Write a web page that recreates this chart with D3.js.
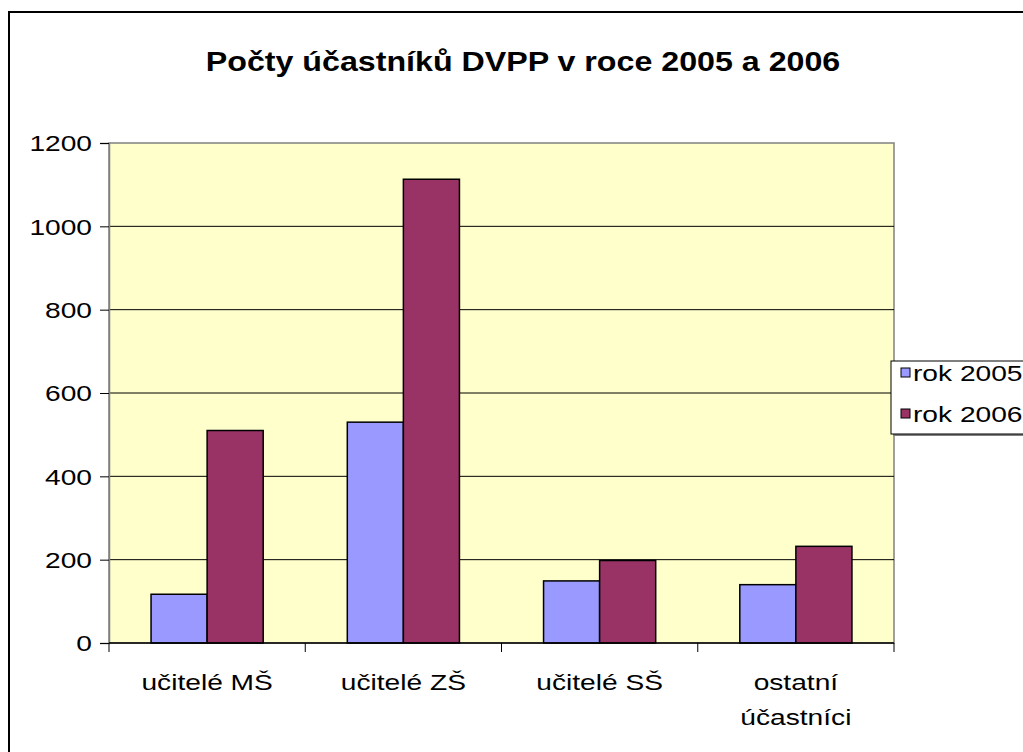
<!DOCTYPE html>
<html>
<head>
<meta charset="utf-8">
<script src="https://cdn.jsdelivr.net/npm/d3@7"></script>
<style>
  body { margin: 0; background: #fff; }
  svg text { font-family: Arial, "Liberation Sans", sans-serif; fill: #000; }
</style>
</head>
<body>
<div id="chart"></div>
<script>
const categories = ["učitelé MŠ", "učitelé ZŠ", "učitelé SŠ", "ostatní účastníci"];
const seriesNames = ["rok 2005", "rok 2006"];
const values2005 = [117, 530, 149, 140];
const values2006 = [510, 1113, 198, 232];
const yTicks = [0, 200, 400, 600, 800, 1000, 1200];
const colors = ["#9999FF", "#993366"];

const width = 1023, height = 752;
const margin = {top: 143, left: 109, bottom: 109, right: 129};
const fs = 22, sx = 1.28; // text in the reference is stretched sideways

const svg = d3.select("#chart").append("svg")
    .attr("width", width).attr("height", height);

// chart frame
svg.append("rect")
    .attr("x", 9).attr("y", 12).attr("width", 1040).attr("height", 760)
    .attr("fill", "#fff").attr("stroke", "#000").attr("stroke-width", 2);

svg.append("text")
    .attr("transform", `translate(523,71) scale(1.15,1)`)
    .attr("text-anchor", "middle")
    .attr("font-size", 28).attr("font-weight", "bold")
    .text("Počty účastníků DVPP v roce 2005 a 2006");

const x0 = d3.scaleBand()
    .domain(categories)
    .range([margin.left, width - margin.right]);
const x1 = d3.scaleBand()
    .domain(seriesNames)
    .range([0, x0.bandwidth()])
    .paddingOuter(0.75);
const y = d3.scaleLinear()
    .domain([0, 1200])
    .range([height - margin.bottom, margin.top]);

// plot area
svg.append("rect")
    .attr("x", margin.left).attr("y", margin.top)
    .attr("width", width - margin.right - margin.left)
    .attr("height", y(0) - margin.top)
    .attr("fill", "#FFFFCC").attr("stroke", "#808080").attr("stroke-width", 1.5);

// gridlines
svg.append("g")
    .selectAll("line")
    .data(yTicks.filter(d => d > 0 && d < 1200))
    .join("line")
    .attr("x1", margin.left).attr("x2", width - margin.right)
    .attr("y1", d => y(d)).attr("y2", d => y(d))
    .attr("stroke", "#000").attr("stroke-width", 1);

const table = categories.map((c, i) => ({cat: c, vals: [values2005[i], values2006[i]]}));

svg.append("g")
    .selectAll("g")
    .data(table)
    .join("g")
    .attr("transform", d => `translate(${x0(d.cat)},0)`)
    .selectAll("rect")
    .data(d => d.vals.map((v, k) => ({name: seriesNames[k], v, k})))
    .join("rect")
    .attr("x", d => x1(d.name))
    .attr("y", d => y(d.v))
    .attr("width", x1.bandwidth())
    .attr("height", d => y(0) - y(d.v))
    .attr("fill", d => colors[d.k])
    .attr("stroke", "#000").attr("stroke-width", 1.5);

// y axis
const yAxis = svg.append("g")
    .attr("transform", `translate(${margin.left},0)`)
    .call(d3.axisLeft(y).tickValues(yTicks).tickSize(9).tickPadding(0).tickFormat(d3.format("d")));
yAxis.select(".domain").attr("stroke", "#808080").attr("stroke-width", 1.5);
yAxis.selectAll(".tick line").attr("stroke", "#000");
yAxis.selectAll(".tick text").remove();
yAxis.selectAll(".tick").append("text")
    .attr("transform", `translate(-17,0) scale(${sx},1)`)
    .attr("dy", "0.35em")
    .attr("text-anchor", "end")
    .attr("font-size", fs)
    .text(d => d);

// x axis
const xg = svg.append("g");
xg.append("line")
    .attr("x1", margin.left).attr("x2", width - margin.right)
    .attr("y1", y(0)).attr("y2", y(0))
    .attr("stroke", "#000").attr("stroke-width", 1.5);
xg.selectAll("line.tick")
    .data(categories.concat(["end"]))
    .join("line")
    .attr("class", "tick")
    .attr("x1", (d, i) => i < categories.length ? x0(d) : width - margin.right)
    .attr("x2", (d, i) => i < categories.length ? x0(d) : width - margin.right)
    .attr("y1", y(0)).attr("y2", y(0) + 9)
    .attr("stroke", "#000");

const labelLines = {"ostatní účastníci": ["ostatní", "účastníci"]};
xg.selectAll("g.lab")
    .data(categories)
    .join("g")
    .attr("class", "lab")
    .attr("transform", d => `translate(${x0(d) + x0.bandwidth() / 2},${y(0) + 47}) scale(${sx},1)`)
    .each(function(d) {
        const lines = labelLines[d] || [d];
        d3.select(this).selectAll("text")
            .data(lines)
            .join("text")
            .attr("y", (l, i) => i * 35)
            .attr("text-anchor", "middle")
            .attr("font-size", fs)
            .text(l => l);
    });

// legend
const lg = svg.append("g").attr("transform", "translate(891,361)");
lg.append("rect")
    .attr("x", 2).attr("y", 2).attr("width", 160).attr("height", 73)
    .attr("fill", "#808080");
lg.append("rect")
    .attr("x", 0).attr("y", 0).attr("width", 160).attr("height", 73)
    .attr("fill", "#fff").attr("stroke", "#000").attr("stroke-width", 1);
const li = lg.selectAll("g.item")
    .data(seriesNames)
    .join("g")
    .attr("class", "item")
    .attr("transform", (d, i) => `translate(10,${7 + i * 41})`);
li.append("rect")
    .attr("width", 9).attr("height", 9)
    .attr("fill", (d, i) => colors[i])
    .attr("stroke", "#000").attr("stroke-width", 1);
li.append("text")
    .attr("transform", `translate(12,5) scale(${sx},1)`)
    .attr("dy", "0.35em")
    .attr("font-size", fs)
    .text(d => d);
</script>
</body>
</html>
